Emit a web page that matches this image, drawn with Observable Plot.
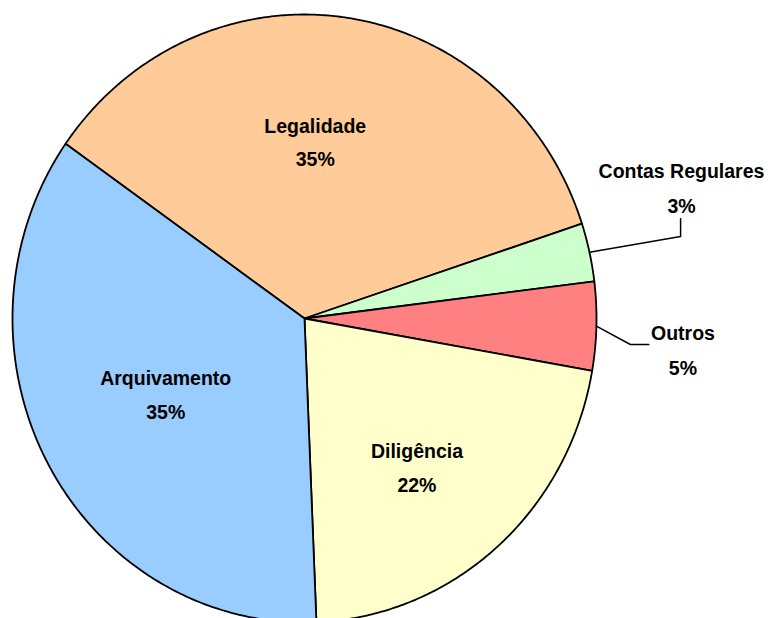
<!DOCTYPE html>
<html><head><meta charset="utf-8">
<script src="https://cdn.jsdelivr.net/npm/d3@7"></script>
<script src="https://cdn.jsdelivr.net/npm/@observablehq/plot@0.6"></script>
<style>html,body{margin:0;padding:0;background:#fff;overflow:hidden}</style>
</head><body><div id="chart"></div>
<script>
// ---- data ----
const categories = ["Legalidade", "Contas Regulares", "Outros", "Diligência", "Arquivamento"];
const values = [35.2, 3.1, 4.7, 21.6, 35.4];
const colors = ["#FFCC99", "#CCFFCC", "#FF8080", "#FFFFCC", "#99CCFF"];

// ---- layout ----
const startDeg = -54.9;             // rotation of first slice
const insideR = 0.6;                // label radius (fraction of pie radius)
const insideNudge = {               // pixel nudges for inside labels
  "Legalidade": [-15, 5], "Arquivamento": [15, -10], "Diligência": [-3, 13]
};
const outsideLayout = {             // outside labels: label centre and leader elbow/end (normalized)
  "Contas Regulares": {lx: 1.291, ly: 0.425, elbow: [1.288, 0.270], end: [1.288, 0.328]},
  "Outros": {lx: 1.296, ly: -0.108, elbow: [1.116, -0.0855], end: [1.179, -0.0855]}
};
const RX = 292, RY = 304;           // pixel radii (for nudges)
const fmt = d3.format(".0%");
const total = d3.sum(values);

const a0 = startDeg * Math.PI / 180;
const arcs = d3.pie().sort(null).value(d => d).startAngle(a0).endAngle(a0 + 2 * Math.PI)(values);

function slicePoints(a) {
  const pts = [{x: 0, y: 0}];
  const n = Math.max(4, Math.ceil((a.endAngle - a.startAngle) / (Math.PI / 360)));
  for (let k = 0; k <= n; k++) {
    const t = a.startAngle + (a.endAngle - a.startAngle) * k / n;
    pts.push({x: Math.sin(t), y: Math.cos(t)});
  }
  pts.push({x: 0, y: 0});
  return pts;
}

const marks = [];
arcs.forEach((a, i) => {
  marks.push(Plot.line(slicePoints(a), {x: "x", y: "y", fill: colors[i], stroke: "#000", strokeWidth: 1.8, strokeLinejoin: "round"}));
});

const inside = [], outside = [], leaders = [];
arcs.forEach((a, i) => {
  const name = categories[i];
  const mid = (a.startAngle + a.endAngle) / 2;
  const pct = fmt(values[i] / total);
  if (insideNudge[name]) {
    const [nx, ny] = insideNudge[name];
    inside.push({name, pct, x: insideR * Math.sin(mid) + nx / RX, y: insideR * Math.cos(mid) - ny / RY});
  } else {
    const L = outsideLayout[name];
    outside.push({name, pct, x: L.lx, y: L.ly});
    leaders.push({name, x: Math.sin(mid), y: Math.cos(mid)});
    leaders.push({name, x: L.elbow[0], y: L.elbow[1]});
    leaders.push({name, x: L.end[0], y: L.end[1]});
  }
});

marks.push(Plot.line(leaders, {x: "x", y: "y", z: "name", stroke: "#000", strokeWidth: 1.5}));
const textStyle = {fontSize: 19.5, fontWeight: "bold", fill: "#000"};
for (const set of [inside, outside]) {
  const off = set === inside ? 16.7 : 17.3;
  marks.push(Plot.text(set, {x: "x", y: "y", text: "name", dy: -off, ...textStyle}));
  marks.push(Plot.text(set, {x: "x", y: "y", text: "pct", dy: off, ...textStyle}));
}

const chart = Plot.plot({
  width: 771, height: 618,
  margin: 0,
  x: {domain: [-1, 1], range: [12, 596], axis: null},
  y: {domain: [-1, 1], range: [622, 14], axis: null},
  style: {fontFamily: "'Liberation Sans', Arial, sans-serif", background: "#fff"},
  marks
});
document.getElementById("chart").appendChild(chart);
</script>
</body></html>
